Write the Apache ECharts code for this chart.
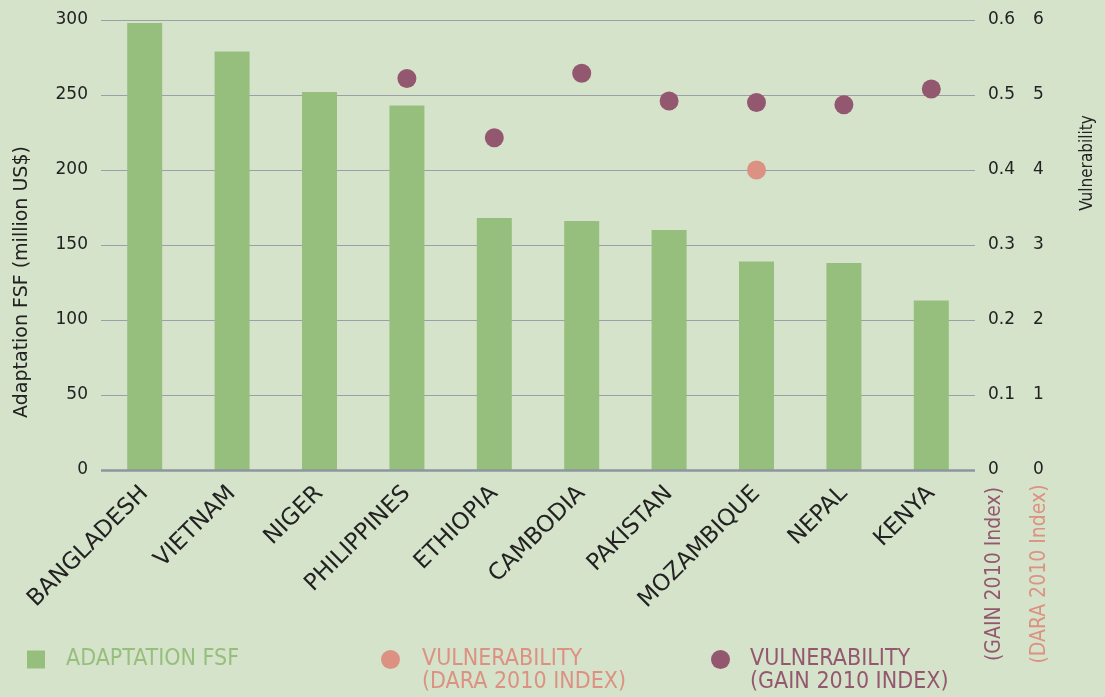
<!DOCTYPE html>
<html>
<head>
<meta charset="utf-8">
<script src="https://cdn.jsdelivr.net/npm/echarts@6/dist/echarts.min.js"></script>
<style>
  html, body { margin: 0; padding: 0; background: #d6e3cb; }
  #main { width: 1105px; height: 697px; }
</style>
</head>
<body>
<div id="main"></div>
<script>
const countries = ['BANGLADESH', 'VIETNAM', 'NIGER', 'PHILIPPINES', 'ETHIOPIA', 'CAMBODIA', 'PAKISTAN', 'MOZAMBIQUE', 'NEPAL', 'KENYA'];
const fsf = [298, 279, 252, 243, 168, 166, 160, 139, 138, 113];
const gain = [null, null, null, 0.522, 0.443, 0.529, 0.492, 0.490, 0.487, 0.508];
const dara = [null, null, null, null, null, null, null, 4.0, null, null];

const green = '#96bf7e';
const gainColor = '#935870';
const daraColor = '#dc9282';
const cond = "'DejaVu Sans Condensed', 'DejaVu Sans', sans-serif";
const sans = "'DejaVu Sans', sans-serif";

let myChart = echarts.init(document.getElementById('main'));

let option = {
  backgroundColor: '#d6e3cb',
  animation: false,
  grid: {
    left: 101,
    right: 130,
    top: 20,
    bottom: 227
  },
  legend: [{
    left: 27, top: 648, padding: 0,
    itemWidth: 18, itemHeight: 18,
    data: [{ name: 'ADAPTATION FSF', icon: 'rect' }],
    textStyle: { color: green, fontSize: 23, fontFamily: cond, padding: [0, 0, 0, 16] }
  }, {
    left: 381, top: 648, padding: 0,
    itemWidth: 19, itemHeight: 19,
    data: [{ name: 'VULNERABILITY (DARA 2010 INDEX)', icon: 'circle' }],
    formatter: function () { return 'VULNERABILITY'; },
    textStyle: { color: daraColor, fontSize: 23, fontFamily: cond, padding: [0, 0, 0, 17] }
  }, {
    left: 711, top: 648, padding: 0,
    itemWidth: 19, itemHeight: 19,
    data: [{ name: 'VULNERABILITY (GAIN 2010 INDEX)', icon: 'circle' }],
    formatter: function () { return 'VULNERABILITY'; },
    textStyle: { color: gainColor, fontSize: 23, fontFamily: cond, padding: [0, 0, 0, 15] }
  }],
  xAxis: [{
    type: 'category',
    data: countries,
    axisTick: { show: false },
    axisLine: { show: false },
    axisLabel: {
      rotate: 45,
      interval: 0,
      margin: 20,
      color: '#222',
      fontSize: 23,
      fontFamily: sans
    }
  }],
  yAxis: [{
    type: 'value',
    min: 0, max: 300, interval: 50,
    axisLine: { show: false },
    axisTick: { show: false },
    axisLabel: { color: '#222', fontSize: 17, margin: 13, fontFamily: sans },
    splitLine: { lineStyle: { color: '#9aa0aa', width: 1 } }
  }, {
    type: 'value',
    position: 'right',
    min: 0, max: 0.6, interval: 0.1,
    axisLine: { show: false },
    axisTick: { show: false },
    splitLine: { show: false },
    axisLabel: { color: '#222', fontSize: 17, margin: 13, fontFamily: sans }
  }, {
    type: 'value',
    position: 'right',
    offset: 45,
    min: 0, max: 6, interval: 1,
    axisLine: { show: false },
    axisTick: { show: false },
    splitLine: { show: false },
    axisLabel: { color: '#222', fontSize: 17, margin: 13, fontFamily: sans }
  }],
  series: [{
    name: 'ADAPTATION FSF',
    type: 'bar',
    data: fsf,
    barWidth: 35,
    itemStyle: { color: green },
    markLine: {
      silent: true,
      symbol: 'none',
      label: { show: false },
      lineStyle: { color: '#8d96a0', width: 2.5, type: 'solid' },
      data: [{ yAxis: 0 }]
    }
  }, {
    name: 'VULNERABILITY (DARA 2010 INDEX)',
    type: 'scatter',
    yAxisIndex: 2,
    data: dara,
    symbolSize: 19,
    itemStyle: { color: daraColor, opacity: 1 }
  }, {
    name: 'VULNERABILITY (GAIN 2010 INDEX)',
    type: 'scatter',
    yAxisIndex: 1,
    data: gain,
    symbolSize: 19,
    itemStyle: { color: gainColor, opacity: 1 }
  }],
  graphic: [{
    type: 'text',
    x: 22, y: 282,
    rotation: Math.PI / 2,
    style: { text: 'Adaptation FSF (million US$)', fill: '#222', fontSize: 19, fontFamily: sans, align: 'center', verticalAlign: 'middle' }
  }, {
    type: 'text',
    x: 1088, y: 163,
    rotation: Math.PI / 2,
    style: { text: 'Vulnerability', fill: '#222', fontSize: 17, fontFamily: cond, align: 'center', verticalAlign: 'middle' }
  }, {
    type: 'text',
    x: 995, y: 574,
    rotation: Math.PI / 2,
    style: { text: '(GAIN 2010 Index)', fill: gainColor, fontSize: 21, fontFamily: cond, align: 'center', verticalAlign: 'middle' }
  }, {
    type: 'text',
    x: 1040, y: 574,
    rotation: Math.PI / 2,
    style: { text: '(DARA 2010 Index)', fill: daraColor, fontSize: 21, fontFamily: cond, align: 'center', verticalAlign: 'middle' }
  }, {
    type: 'text',
    x: 422, y: 682,
    style: { text: '(DARA 2010 INDEX)', fill: daraColor, fontSize: 23, fontFamily: cond, verticalAlign: 'middle' }
  }, {
    type: 'text',
    x: 750, y: 682,
    style: { text: '(GAIN 2010 INDEX)', fill: gainColor, fontSize: 23, fontFamily: cond, verticalAlign: 'middle' }
  }]
};

myChart.setOption(option);
</script>
</body>
</html>
